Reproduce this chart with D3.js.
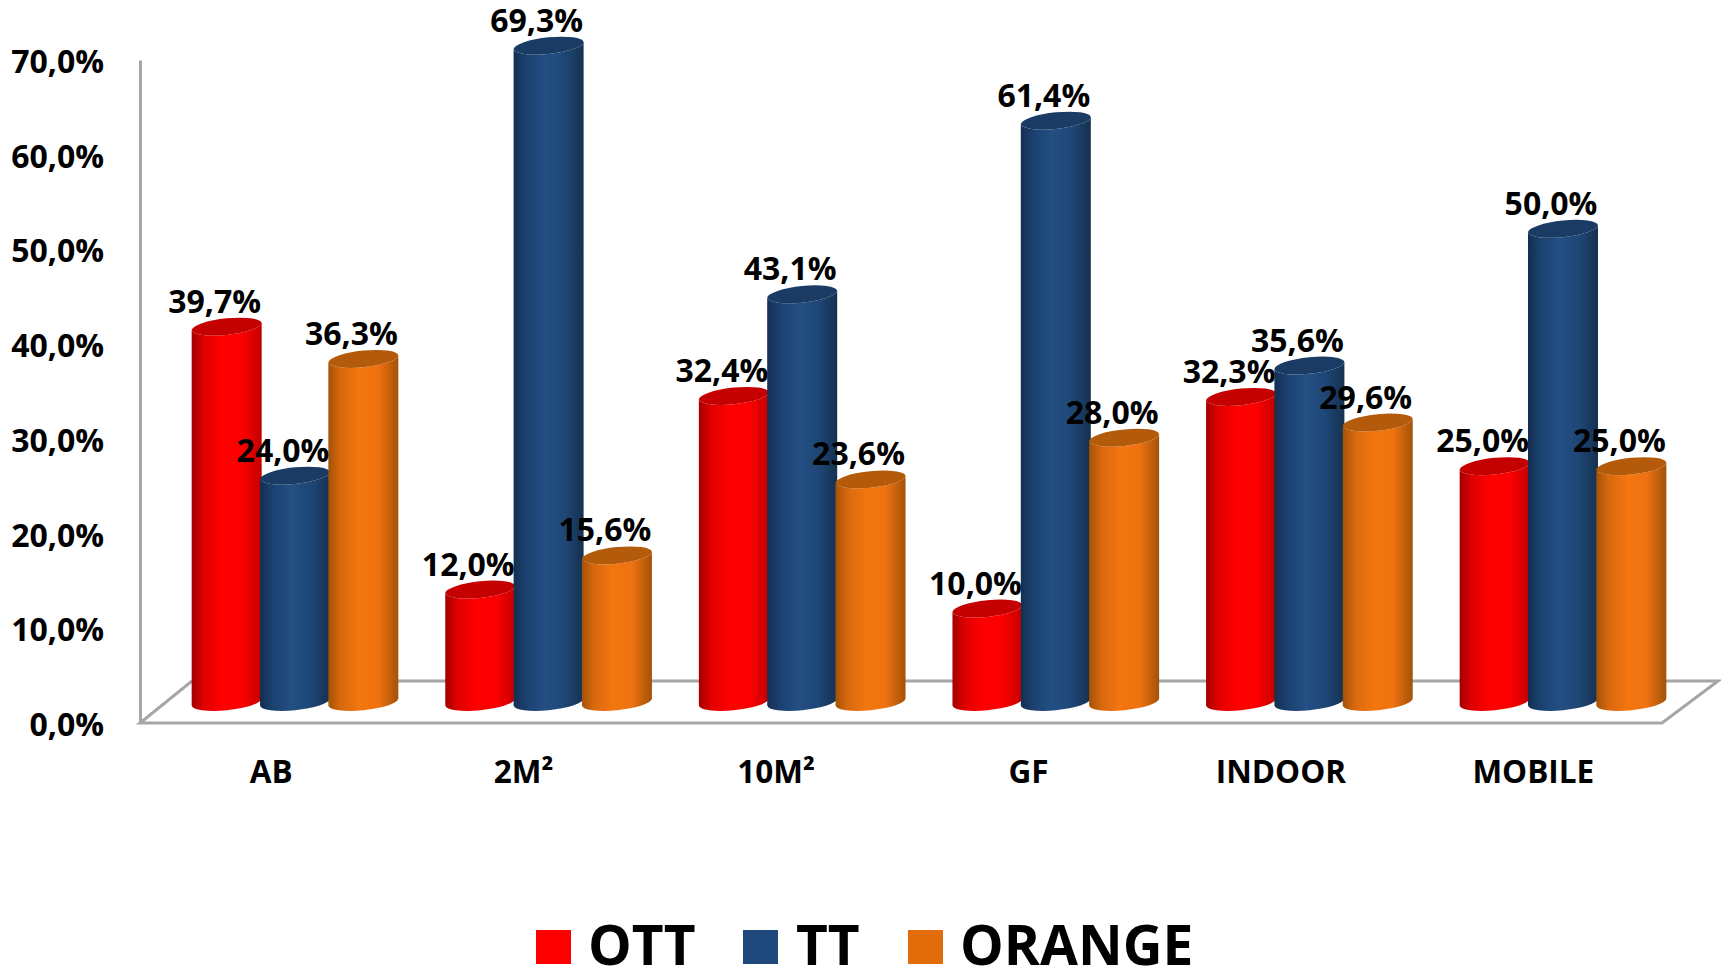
<!DOCTYPE html>
<html>
<head>
<meta charset="utf-8">
<title>OTT TT ORANGE</title>
<script src="https://cdn.jsdelivr.net/npm/d3@7"></script>
<style>
  html, body { margin: 0; padding: 0; background: #fff; overflow: hidden; }
  text { font-family: "Open Sans", "Noto Sans", sans-serif; font-weight: 700; fill: #000; }
</style>
</head>
<body>
<div id="chart"></div>
<script>
// Values
const categories = ["AB", "2M²", "10M²", "GF", "INDOOR", "MOBILE"];
const seriesNames = ["OTT", "TT", "ORANGE"];
const ott = [39.7, 12.0, 32.4, 10.0, 32.3, 25.0];
const tt = [24.0, 69.3, 43.1, 61.4, 35.6, 50.0];
const orange = [36.3, 15.6, 23.6, 28.0, 29.6, 25.0];
const yTicks = [0, 10, 20, 30, 40, 50, 60, 70];

const seriesValues = [ott, tt, orange];

const width = 1721, height = 972;

const svg = d3.select("#chart").append("svg")
    .attr("width", width)
    .attr("height", height)
    .style("display", "block");

const comma = d3.formatLocale({ decimal: ",", thousands: ".", grouping: [3], currency: ["", ""] });
const pct = v => comma.format(".1f")(v) + "%";

// Scales. Bars stand on the floor, the axis runs up the front of the wall
const yBar = d3.scaleLinear().domain([0, 70]).range([703.5, 39]);
const yWall = d3.scaleLinear().domain([0, 70]).range([723, 60]);
const x0 = d3.scaleBand().domain(categories).range([168.2, 1689.8]);
const x1 = d3.scaleBand().domain(seriesNames).range([0, 205]);
// category labels follow the front edge of the floor, not the bars
const xFront = d3.scaleBand().domain(categories).range([145, 1659.5]);
const barW = 70;

// Gradients for the cylinders
const shades = {
    OTT: { stops: ["#a30000", "#e00000", "#ff0000", "#fb0000", "#c40000"], top: "#c40000", legend: "#ff0000" },
    TT: { stops: ["#142f50", "#1b4170", "#244f84", "#1e4777", "#15314f"], top: "#1a3c64", legend: "#1f497d" },
    ORANGE: { stops: ["#a45207", "#d9690d", "#f47610", "#ee7210", "#a35208"], top: "#b35b0a", legend: "#e36c0a" }
};
const defs = svg.append("defs");
seriesNames.forEach(name => {
    const g = defs.append("linearGradient").attr("id", "grad-" + name);
    [0, 0.18, 0.45, 0.72, 1].forEach((o, i) => {
        g.append("stop").attr("offset", o).attr("stop-color", shades[name].stops[i]);
    });
});

// Floor
const floor = svg.append("g");
floor.append("path")
    .attr("d", d3.line()([[192, yWall(0) - 42], [1718, yWall(0) - 42], [1662, yWall(0)], [140, yWall(0)], [192, yWall(0) - 42]]))
    .attr("fill", "none")
    .attr("stroke", "#a6a6a6")
    .attr("stroke-width", 3);

// Y axis
svg.append("g")
    .attr("transform", "translate(140,0)")
    .call(d3.axisLeft(yWall).tickValues(yTicks).tickFormat(pct).tickSize(0).tickPadding(36))
    .call(g => g.select(".domain").attr("stroke", "#a6a6a6").attr("stroke-width", 3))
    .call(g => g.selectAll("text")
        .attr("font-size", 32)
        .attr("dy", "0.39em")
        .style("font-family", null));

// X axis labels
svg.append("g")
    .attr("transform", "translate(0,761)")
    .call(d3.axisBottom(xFront).tickSize(0).tickPadding(0))
    .call(g => g.select(".domain").remove())
    .call(g => g.selectAll("text")
        .attr("font-size", 31.5)
        .attr("dy", "0.71em")
        .style("font-family", null));

// Cylinder outlines, tilted slightly up to the right
const tilt = 3.5, ry = 8.5;
const rx = (barW / 2) / Math.cos(6 * Math.PI / 180);
function cylinderBody(cx, yTop, yBottom) {
    const r = barW / 2;
    return `M${cx - r},${yTop + tilt}` +
        `L${cx - r},${yBottom + tilt}` +
        `A${rx},${ry} -6 0 0 ${cx + r},${yBottom - tilt}` +
        `L${cx + r},${yTop - tilt}` +
        `A${rx},${ry} -6 0 1 ${cx - r},${yTop + tilt}Z`;
}
function cylinderTop(cx, yTop) {
    const r = barW / 2;
    return `M${cx - r},${yTop + tilt}` +
        `A${rx},${ry} -6 0 1 ${cx + r},${yTop - tilt}` +
        `A${rx},${ry} -6 0 1 ${cx - r},${yTop + tilt}Z`;
}

const flat = [];
categories.forEach((c, i) => {
    seriesNames.forEach((s, j) => {
        flat.push({ category: c, series: s, value: seriesValues[j][i] });
    });
});
const barCx = d => x0(d.category) + (x0.bandwidth() - x1.range()[1]) / 2 + x1(d.series) + x1.bandwidth() / 2;

const bars = svg.append("g").selectAll("g")
    .data(flat)
    .join("g");

bars.append("path")
    .attr("d", d => cylinderBody(barCx(d), yBar(d.value), yBar(0) - 1.5))
    .attr("fill", d => `url(#grad-${d.series})`);

bars.append("path")
    .attr("d", d => cylinderTop(barCx(d), yBar(d.value)))
    .attr("fill", d => shades[d.series].top);

// Value labels on top of everything
svg.append("g").selectAll("text")
    .data(flat)
    .join("text")
    .attr("x", d => barCx(d) - 12)
    .attr("y", d => yBar(d.value) - 25.5)
    .attr("dy", "0.36em")
    .attr("text-anchor", "middle")
    .attr("font-size", 32)
    .text(d => pct(d.value));

// Legend
const legendLayout = { OTT: [536, 588], TT: [743, 796], ORANGE: [908, 960] };
const legend = svg.append("g").selectAll("g")
    .data(seriesNames)
    .join("g");
legend.append("rect")
    .attr("x", d => legendLayout[d][0])
    .attr("y", 930)
    .attr("width", 35)
    .attr("height", 34)
    .attr("fill", d => shades[d].legend);
legend.append("text")
    .attr("x", d => legendLayout[d][1])
    .attr("y", 965)
    .attr("font-size", 55)
    .text(d => d);
</script>
</body>
</html>
